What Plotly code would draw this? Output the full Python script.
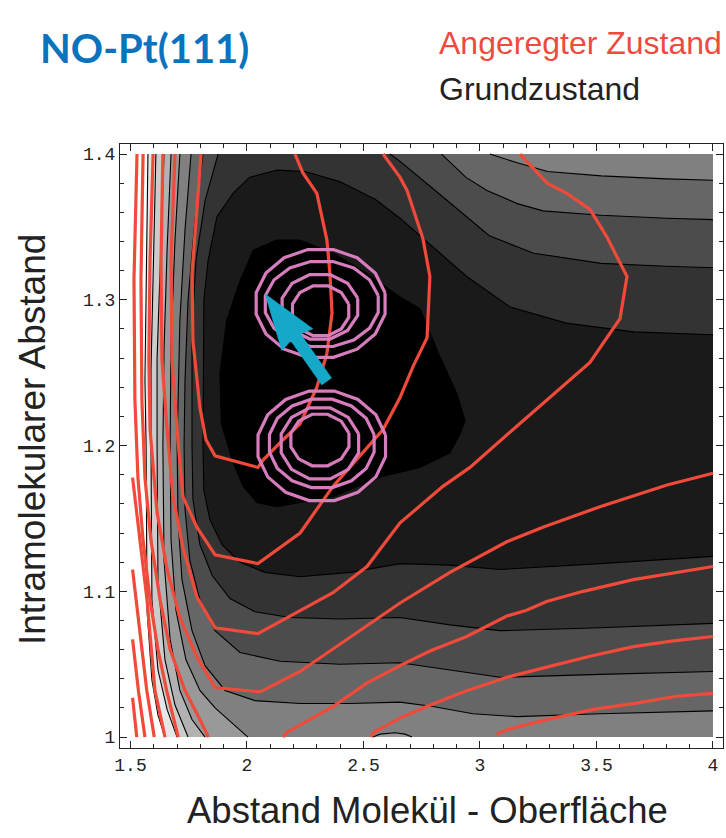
import numpy as np
import plotly.graph_objects as go

# ---------------------------------------------------------------------------
# Surface extent and view window
# ---------------------------------------------------------------------------
X_LO, X_HI = 1.5, 4.0          # Abstand Molekül - Oberfläche
Y_LO, Y_HI = 1.0, 1.4          # Intramolekularer Abstand
X_RANGE = [1.455, 4.043]
Y_RANGE = [0.9925, 1.4069]

x_tick_vals = [1.5, 2.0, 2.5, 3.0, 3.5, 4.0]
x_tick_text = ["1.5", "2", "2.5", "3", "3.5", "4"]
y_tick_vals = [1.0, 1.1, 1.2, 1.3, 1.4]
y_tick_text = ["1", "1.1", "1.2", "1.3", "1.4"]

# ---------------------------------------------------------------------------
# Grundzustand: contour lines (level 0 = minimum, level 9 = repulsive wall)
# ---------------------------------------------------------------------------
gs_l0 = [(1.913, 1.286), (1.970, 1.313), (2.027, 1.334), (2.127, 1.341), (2.227, 1.341),
         (2.370, 1.332), (2.514, 1.318), (2.657, 1.302), (2.742, 1.294), (2.828, 1.261),
         (2.900, 1.236), (2.936, 1.217), (2.914, 1.208), (2.871, 1.195), (2.742, 1.185),
         (2.585, 1.179), (2.370, 1.165), (2.127, 1.158), (2.042, 1.161), (1.984, 1.172),
         (1.941, 1.188), (1.890, 1.215), (1.884, 1.250), (1.913, 1.286)]

gs_l1 = [(4.0, 1.276), (3.66, 1.278), (3.37, 1.284), (3.13, 1.295), (2.943, 1.316),
         (2.80, 1.336), (2.657, 1.356), (2.55, 1.369), (2.40, 1.381), (2.25, 1.388),
         (2.13, 1.389), (2.01, 1.384), (1.94, 1.373), (1.871, 1.357), (1.833, 1.327),
         (1.815, 1.300), (1.811, 1.2), (1.815, 1.169), (1.841, 1.149), (1.893, 1.132),
         (1.970, 1.120), (2.077, 1.113), (2.228, 1.110), (2.442, 1.113), (2.657, 1.119),
         (2.871, 1.118), (3.086, 1.115), (3.515, 1.119), (4.0, 1.124)]

gs_l2_left = [(1.876, 1.4), (1.820, 1.368), (1.781, 1.327), (1.764, 1.279), (1.764, 1.2),
              (1.768, 1.163), (1.798, 1.132), (1.850, 1.111), (1.927, 1.095), (2.034, 1.086),
              (2.185, 1.082), (2.399, 1.081), (2.657, 1.082), (2.871, 1.077), (3.086, 1.073),
              (3.515, 1.075), (4.0, 1.078)]
gs_l2_right = [(2.614, 1.4), (2.657, 1.395), (2.80, 1.376), (2.943, 1.357), (3.04, 1.344),
               (3.23, 1.332), (3.52, 1.325), (3.80, 1.323), (4.0, 1.322)]

gs_l3_left = [(1.811, 1.4), (1.777, 1.355), (1.747, 1.300), (1.734, 1.245), (1.730, 1.2),
              (1.734, 1.156), (1.755, 1.121), (1.798, 1.094), (1.863, 1.073), (1.970, 1.058),
              (2.142, 1.052), (2.399, 1.050), (2.657, 1.051), (2.871, 1.046), (3.086, 1.041),
              (3.515, 1.043), (4.0, 1.045)]
gs_l3_right = [(2.835, 1.4), (2.94, 1.384), (3.03, 1.375), (3.16, 1.366), (3.27, 1.361),
               (3.52, 1.358), (3.80, 1.356), (4.0, 1.355)]

gs_l4_left = [(1.760, 1.4), (1.734, 1.348), (1.712, 1.286), (1.700, 1.2), (1.704, 1.149),
              (1.721, 1.108), (1.764, 1.073), (1.820, 1.049), (1.906, 1.032), (2.034, 1.025),
              (2.228, 1.023), (2.442, 1.023), (2.657, 1.024), (2.798, 1.021), (2.970, 1.016),
              (3.159, 1.014), (3.515, 1.016), (4.0, 1.018)]
gs_l4_right = [(3.043, 1.4), (3.16, 1.394), (3.29, 1.388), (3.52, 1.385), (3.80, 1.383),
               (4.0, 1.382)]

gs_l5 = [(1.712, 1.4), (1.691, 1.341), (1.674, 1.272), (1.670, 1.2), (1.674, 1.135),
         (1.695, 1.087), (1.738, 1.053), (1.798, 1.032), (1.863, 1.020), (1.949, 1.008),
         (2.004, 1.0)]
gs_l5_bump = [(2.541, 1.0), (2.571, 1.002), (2.635, 1.003), (2.678, 1.002), (2.708, 1.0)]

gs_l6 = [(1.674, 1.4), (1.657, 1.334), (1.644, 1.266), (1.639, 1.2), (1.644, 1.121),
         (1.670, 1.067), (1.712, 1.032), (1.764, 1.012), (1.820, 1.0)]
gs_l7 = [(1.644, 1.4), (1.627, 1.327), (1.614, 1.259), (1.614, 1.2), (1.618, 1.108),
         (1.648, 1.053), (1.691, 1.022), (1.747, 1.0)]
gs_l8 = [(1.609, 1.4), (1.597, 1.320), (1.588, 1.252), (1.588, 1.2), (1.592, 1.094),
         (1.618, 1.046), (1.657, 1.019), (1.700, 1.0)]
gs_l9 = [(1.575, 1.4), (1.567, 1.314), (1.562, 1.245), (1.567, 1.2), (1.571, 1.087),
         (1.592, 1.039), (1.618, 1.015), (1.648, 1.0)]

# ---------------------------------------------------------------------------
# Angeregter Zustand: contour lines
# ---------------------------------------------------------------------------
ex_1 = [(1.803, 1.4), (1.785, 1.364), (1.764, 1.318), (1.768, 1.272), (1.798, 1.226),
        (1.824, 1.204), (1.863, 1.193), (2.047, 1.185), (2.069, 1.190), (2.155, 1.204),
        (2.228, 1.215), (2.300, 1.240), (2.343, 1.263), (2.365, 1.291), (2.356, 1.318),
        (2.343, 1.341), (2.300, 1.373), (2.240, 1.387), (2.206, 1.4)]
ex_2 = [(1.691, 1.4), (1.674, 1.327), (1.678, 1.259), (1.700, 1.211), (1.725, 1.165),
        (1.785, 1.144), (1.863, 1.125), (2.047, 1.119), (2.228, 1.140), (2.369, 1.172),
        (2.584, 1.211), (2.657, 1.233), (2.712, 1.254), (2.773, 1.274), (2.785, 1.316),
        (2.755, 1.342), (2.687, 1.375), (2.657, 1.384), (2.584, 1.4)]
ex_3 = [(1.639, 1.4), (1.631, 1.327), (1.635, 1.259), (1.657, 1.211), (1.682, 1.165),
        (1.725, 1.130), (1.785, 1.096), (1.863, 1.075), (2.047, 1.071), (2.228, 1.087),
        (2.369, 1.099), (2.515, 1.117), (2.657, 1.147), (2.841, 1.172), (2.957, 1.185),
        (3.142, 1.211), (3.270, 1.229), (3.472, 1.257), (3.601, 1.287), (3.631, 1.316),
        (3.545, 1.343), (3.472, 1.362), (3.373, 1.373), (3.288, 1.380), (3.172, 1.4)]
ex_4 = [(1.597, 1.4), (1.584, 1.327), (1.579, 1.259), (1.584, 1.211), (1.614, 1.154),
        (1.657, 1.115), (1.712, 1.082), (1.785, 1.055), (1.863, 1.034), (2.056, 1.031),
        (2.228, 1.045), (2.399, 1.064), (2.657, 1.092), (2.871, 1.113), (3.115, 1.134),
        (3.270, 1.144), (3.515, 1.158), (3.803, 1.173), (4.0, 1.181)]
ex_5 = [(4.0, 1.117), (3.801, 1.112), (3.658, 1.108), (3.443, 1.100), (3.286, 1.093),
        (3.200, 1.087), (3.115, 1.083), (2.943, 1.069), (2.785, 1.059), (2.657, 1.049),
        (2.514, 1.037), (2.370, 1.021), (2.170, 1.003), (2.155, 1.0)]
ex_6 = [(4.0, 1.069), (3.830, 1.066), (3.658, 1.062), (3.486, 1.056), (3.286, 1.048),
        (3.115, 1.041), (2.928, 1.031), (2.771, 1.021), (2.657, 1.013), (2.585, 1.007),
        (2.542, 1.003), (2.532, 1.0)]
ex_7 = [(4.0, 1.030), (3.844, 1.028), (3.658, 1.023), (3.486, 1.019), (3.286, 1.012),
        (3.115, 1.005), (3.072, 1.002)]
# steep wall: lines from the top edge bending down to the bottom edge
ex_wall_a = [(1.528, 1.4), (1.515, 1.314), (1.519, 1.231), (1.532, 1.178), (1.554, 1.135),
             (1.584, 1.094), (1.618, 1.060), (1.655, 1.032), (1.705, 1.0)]
ex_wall_b = [(1.554, 1.4), (1.545, 1.314), (1.549, 1.231), (1.562, 1.178), (1.588, 1.135),
             (1.627, 1.094), (1.670, 1.060), (1.734, 1.032), (1.798, 1.012), (1.834, 1.0)]
# steep wall: lines entering through the left edge
ex_edge_1 = [(1.509, 1.178), (1.541, 1.135), (1.571, 1.094), (1.605, 1.032), (1.648, 1.0)]
ex_edge_2 = [(1.509, 1.115), (1.541, 1.073), (1.570, 1.032), (1.602, 1.0)]
ex_edge_3 = [(1.509, 1.067), (1.534, 1.032), (1.562, 1.0)]
ex_edge_4 = [(1.509, 1.027), (1.527, 1.0)]

# ---------------------------------------------------------------------------
# Wave packets: (centre x, centre y, half-width x, half-height y) per ring
# ---------------------------------------------------------------------------
packet_upper = [(2.316, 1.2975, 0.282, 0.0377), (2.321, 1.2971, 0.247, 0.0297),
                (2.313, 1.2952, 0.168, 0.0229), (2.316, 1.2925, 0.125, 0.0177)]
packet_lower = [(2.321, 1.1998, 0.279, 0.0383), (2.321, 1.2015, 0.229, 0.0309),
                (2.313, 1.2015, 0.172, 0.0252), (2.313, 1.2038, 0.129, 0.0183)]

# Arrow of the excitation path (tail -> tip)
arrow_tail = (2.342, 1.244)
arrow_tip = (2.078, 1.304)

# ---------------------------------------------------------------------------
# Figure geometry
# ---------------------------------------------------------------------------
W, H = 726, 838
M_L, M_R, M_T, M_B = 120, 3, 144, 90
PLOT_W = W - M_L - M_R
PLOT_H = H - M_T - M_B
SX = PLOT_W / (X_RANGE[1] - X_RANGE[0])   # px per unit, x
SY = PLOT_H / (Y_RANGE[1] - Y_RANGE[0])   # px per unit, y

RED = "rgb(240,74,58)"
PINK = "rgb(215,124,188)"
CYAN = "rgb(22,168,200)"


def xy(points):
    return [p[0] for p in points], [p[1] for p in points]


def region(left, right=None):
    """Closed outline of the low-energy side of a contour level."""
    pts = list(left)
    if right is not None:
        pts += list(reversed(right))
    elif abs(pts[-1][1] - Y_LO) < 1e-9:
        pts += [(X_HI, Y_LO), (X_HI, Y_HI)]
    else:
        pts += [(X_HI, Y_HI)]
    return pts


def gray(level):
    v = int(round(255 * level / 10))
    return f"rgb({v},{v},{v})"


fig = go.Figure()

# filled bands, outermost first
bands = [
    (9, region(gs_l9)),
    (8, region(gs_l8)),
    (7, region(gs_l7)),
    (6, region(gs_l6)),
    (5, region(gs_l5)),
    (6, gs_l5_bump),
    (4, region(gs_l4_left, gs_l4_right)),
    (3, region(gs_l3_left, gs_l3_right)),
    (2, region(gs_l2_left, gs_l2_right)),
    (1, gs_l1),
    (0, gs_l0),
]
for level, pts in bands:
    bx, by = xy(pts)
    fig.add_trace(go.Scatter(x=bx, y=by, mode="lines", fill="toself",
                             fillcolor=gray(level), line=dict(width=0),
                             hoverinfo="skip", showlegend=False))

# black contour lines of the ground state
for line in [gs_l9, gs_l8, gs_l7, gs_l6, gs_l5, gs_l5_bump, gs_l4_left, gs_l4_right,
             gs_l3_left, gs_l3_right, gs_l2_left, gs_l2_right, gs_l1, gs_l0]:
    lx, ly = xy(line)
    fig.add_trace(go.Scatter(x=lx, y=ly, mode="lines",
                             line=dict(color="black", width=1.1),
                             hoverinfo="skip", showlegend=False))

# red contour lines of the excited state
for line in [ex_edge_4, ex_edge_3, ex_edge_2, ex_edge_1, ex_wall_a, ex_wall_b,
             ex_1, ex_2, ex_3, ex_4, ex_5, ex_6, ex_7]:
    lx, ly = xy(line)
    fig.add_trace(go.Scatter(x=lx, y=ly, mode="lines",
                             line=dict(color=RED, width=3.2),
                             hoverinfo="skip", showlegend=False))

# wave packet rings
for packet in (packet_upper, packet_lower):
    for i, (cx, cy, ax, by) in enumerate(packet):
        n = 16 if i < 2 else 12
        t = np.linspace(0, 2 * np.pi, n + 1) + np.pi / n
        fig.add_trace(go.Scatter(x=cx + ax * np.cos(t), y=cy + by * np.sin(t),
                                 mode="lines", line=dict(color=PINK, width=3.2),
                                 hoverinfo="skip", showlegend=False))

# arrow built in screen space and mapped back to data units
tx, ty = arrow_tail
hx, hy = arrow_tip
dxp, dyp = (hx - tx) * SX, (hy - ty) * SY
length = np.hypot(dxp, dyp)
ux, uy = dxp / length, dyp / length
px_, py_ = -uy, ux
head_len, head_half, shaft_half = 56.0, 19.0, 6.0
local = [(0.0, 0.0), (-head_len, head_half), (-head_len + 3, shaft_half),
         (-length, shaft_half), (-length, -shaft_half), (-head_len + 3, -shaft_half),
         (-head_len, -head_half), (0.0, 0.0)]
ax_pts = [hx + (a * ux + b * px_) / SX for a, b in local]
ay_pts = [hy + (a * uy + b * py_) / SY for a, b in local]
fig.add_trace(go.Scatter(x=ax_pts, y=ay_pts, mode="lines", fill="toself",
                         fillcolor=CYAN, line=dict(color=CYAN, width=0.5),
                         hoverinfo="skip", showlegend=False))

axis_common = dict(
    showgrid=False, zeroline=False, showline=True, linecolor="#222", linewidth=1,
    mirror="allticks", ticks="inside", ticklen=7, tickwidth=1, tickcolor="#222",
    tickfont=dict(family="Liberation Mono, Courier New, monospace", size=18, color="#222"),
)

fig.update_layout(
    width=W, height=H,
    margin=dict(l=M_L, r=M_R, t=M_T, b=M_B),
    paper_bgcolor="white", plot_bgcolor="white",
    xaxis=dict(range=X_RANGE, tickmode="array", tickvals=x_tick_vals, ticktext=x_tick_text,
               minor=dict(tickmode="linear", tick0=1.5, dtick=0.1, ticks="inside",
                          ticklen=4, tickcolor="#222"),
               **axis_common),
    yaxis=dict(range=Y_RANGE, tickmode="array", tickvals=y_tick_vals, ticktext=y_tick_text,
               minor=dict(tickmode="linear", tick0=1.0, dtick=0.02, ticks="inside",
                          ticklen=4, tickcolor="#222"),
               **axis_common),
    showlegend=False,
)

title_font = "Liberation Sans, Arial, sans-serif"
fig.add_annotation(text="NO-Pt(111)", xref="paper", yref="paper",
                   x=(38 - M_L) / PLOT_W, y=(H - M_B - 48) / PLOT_H,
                   xanchor="left", yanchor="middle", showarrow=False,
                   font=dict(family="Lato, Noto Sans, sans-serif", size=40,
                             color="rgb(10,115,190)", weight="bold"))
fig.add_annotation(text="Angeregter Zustand", xref="paper", yref="paper",
                   x=(437 - M_L) / PLOT_W, y=(H - M_B - 43) / PLOT_H,
                   xanchor="left", yanchor="middle", showarrow=False,
                   font=dict(family="Liberation Sans, Arial, sans-serif", size=32,
                             color="rgb(239,74,61)"))
fig.add_annotation(text="Grundzustand", xref="paper", yref="paper",
                   x=(437 - M_L) / PLOT_W, y=(H - M_B - 89) / PLOT_H,
                   xanchor="left", yanchor="middle", showarrow=False,
                   font=dict(family="Liberation Sans, Arial, sans-serif", size=32,
                             color="#222"))
fig.add_annotation(text="Abstand Molekül - Oberfläche", xref="paper", yref="paper",
                   x=(427 - M_L) / PLOT_W, y=(H - M_B - 810) / PLOT_H,
                   xanchor="center", yanchor="middle", showarrow=False,
                   font=dict(family=title_font, size=36.5, color="#222"))
fig.add_annotation(text="Intramolekularer Abstand", xref="paper", yref="paper",
                   x=(33 - M_L) / PLOT_W, y=(H - M_B - 440) / PLOT_H,
                   xanchor="center", yanchor="middle", textangle=-90, showarrow=False,
                   font=dict(family=title_font, size=37, color="#222"))

fig.write_html("out.html")
